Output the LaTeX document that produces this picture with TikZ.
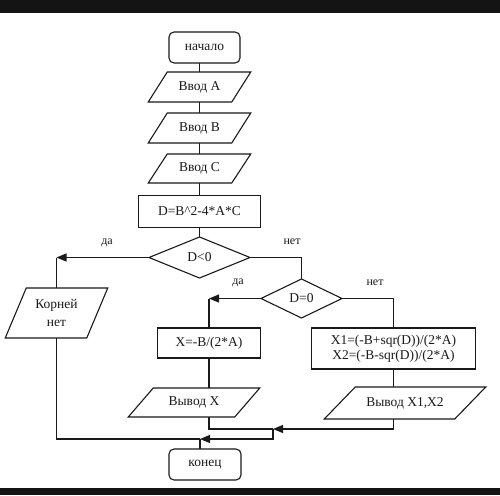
\documentclass[tikz,border=0pt]{standalone}
\usepackage{fontspec}
\setmainfont{Liberation Serif}
\usetikzlibrary{shapes.geometric,arrows.meta}
\definecolor{ink}{HTML}{1A1A1A}
\definecolor{barc}{HTML}{141414}
\newcommand\ionode[7]{%
  \node[txt, minimum width=#4pt, minimum height=#5pt] (#1) at (#2,#3) {#7};
  \draw[ink] ([xshift=#6pt/2]#1.north west) -- ([xshift=#6pt/2]#1.north east)
    -- ([xshift=-#6pt/2]#1.south east) -- ([xshift=-#6pt/2]#1.south west) -- cycle;}
\begin{document}
\begin{tikzpicture}[x=1pt,y=-1pt,line width=1.1pt,
  txt/.style={font=\fontsize{13.5}{16}\selectfont, text=ink, inner sep=0pt, outer sep=0pt, align=center},
  boxnode/.style={txt, draw=ink, rectangle},
  term/.style={boxnode, rounded corners=5pt},
  decision/.style={txt, draw=ink, diamond, aspect=2.5},
  lbl/.style={font=\fontsize{12}{14}\selectfont, text=ink, inner sep=0pt},
  conn/.style={draw=ink},
  arr/.style={conn, -{Triangle[length=10pt,width=8pt]}}]
\useasboundingbox (0,0) rectangle (500,495);
\fill[white] (0,0) rectangle (500,495);
\fill[barc] (0,0) rectangle (500,13);
\fill[barc] (0,488) rectangle (500,495);

\node[term, minimum width=71pt, minimum height=31pt] (start) at (204.5,47.5) {начало};
\ionode{inA}{199.5}{87}{83.5}{30}{19}{Ввод A}
\ionode{inB}{199.5}{128}{83.5}{30}{19}{Ввод B}
\ionode{inC}{199.5}{168.5}{83.5}{29}{19}{Ввод C}
\node[boxnode, minimum width=122pt, minimum height=32pt] (calc) at (199.5,211.5) {D=B\textasciicircum2-4*A*C};
\node[decision, minimum width=101pt, minimum height=41pt] (d1) at (199.5,257.5) {D<0};
\node[decision, minimum width=81pt, minimum height=39pt] (d2) at (301.5,298.5) {D=0};
\ionode{noroots}{56.5}{313}{81.5}{50}{21}{Корней\\[2pt]нет}
\node[boxnode, minimum width=103pt, minimum height=30pt] (xbox) at (209,343) {X=-B/(2*A)};
\node[boxnode, minimum width=164pt, minimum height=41pt] (x12) at (393.5,348.5) {X1=(-B+sqr(D))/(2*A)\\[-1pt]X2=(-B-sqr(D))/(2*A)};
\ionode{outx}{194}{402.5}{106.5}{29}{25}{Вывод X}
\ionode{out12}{405}{403}{130.5}{32}{31}{Вывод X1,X2}
\node[term, minimum width=72pt, minimum height=31pt] (end) at (205,464.5) {конец};

\node[lbl] (l1) at (107,243) {да};
\node[lbl] (l2) at (292,242) {нет};
\node[lbl] (l3) at (238,283) {да};
\node[lbl] (l4) at (375,283) {нет};

\coordinate (j1) at (273,429);
\coordinate (j2) at (200,439);

\draw[conn] (start.south -| inA.north) -- (inA.north);
\draw[conn] (inA.south) -- (inB.north);
\draw[conn] (inB.south) -- (inC.north);
\draw[conn] (inC.south) -- (calc.north);
\draw[conn] (calc.south) -- (d1.north);
\draw[arr] (d1.west) -- (d1.west -| noroots.north);
\draw[conn] (d1.west -| noroots.north) -- (noroots.north);
\draw[conn] (d1.east) -| (d2.north);
\draw[arr] (d2.west) -- (d2.west -| xbox.north);
\draw[conn] (d2.west -| xbox.north) -- (xbox.north);
\draw[conn] (d2.east) -| (x12.north);
\draw[conn] (xbox.south) -- (xbox.south |- outx.north);
\draw[conn] (x12.south) -- (x12.south |- out12.north);
\draw[conn] (xbox.south |- outx.south) |- (j1);
\draw[arr] (x12.south |- out12.south) |- (j1);
\draw[conn] (noroots.south) |- (j2);
\draw[arr] (j1) |- (j2);
\draw[conn] (j2) -- (j2 |- end.north);
\end{tikzpicture}
\end{document}
